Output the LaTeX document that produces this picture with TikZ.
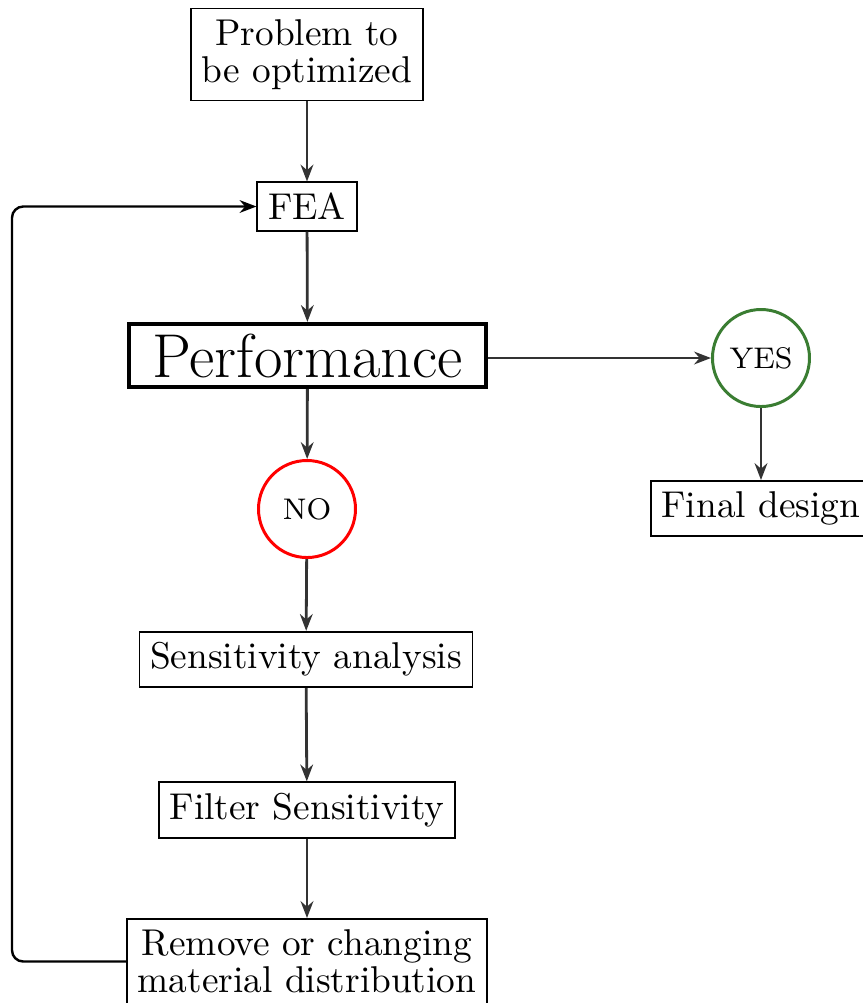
\documentclass[tikz,border=0pt]{standalone}
\usetikzlibrary{arrows.meta}
\definecolor{arrgray}{HTML}{333333}
\definecolor{yesgreen}{HTML}{3A7D32}
\begin{document}
\begin{tikzpicture}[x=0.268pt,y=-0.268pt,
  box/.style={draw=black,line width=0.45pt,inner sep=2.9pt,align=center,
    font=\fontsize{10}{10}\selectfont,fill=white},
  bigbox/.style={draw=black,line width=1.1pt,inner sep=0pt,
    minimum width=95.7pt,minimum height=16.9pt,
    font=\fontsize{16.6}{20}\selectfont},
  yesno/.style={circle,line width=0.8pt,minimum size=26pt,inner sep=0pt,
    font=\fontsize{8}{9}\selectfont},
  flow/.style={draw=arrgray,line width=0.75pt,-{Stealth[length=4.5pt,width=3.4pt]}},
  loopline/.style={draw=black,line width=0.65pt,rounded corners=3pt,-{Stealth[length=4.5pt,width=3.4pt]}}]
\useasboundingbox (0,0) rectangle (863,1003);
\node[box] (prob) at (307,54.5) {Problem to\\be optimized};
\node[box] (fea) at (307,206.5) {FEA};
\node[bigbox] (perf) at (307.5,355.5) {Performance};
\node[yesno,draw=yesgreen] (yes) at (761,358) {YES};
\node[yesno,draw=red] (no) at (307,509) {NO};
\node[box] (final) at (761,508.5) {Final design};
\node[box] (sens) at (306,659.5) {Sensitivity analysis};
\node[box] (filt) at (307,810) {Filter Sensitivity};
\node[box] (rem) at (307,961.5) {Remove or changing\\material distribution};
\coordinate (lc) at (12,206.5);
\draw[flow] (prob) -- (fea);
\draw[flow] (fea) -- (perf);
\draw[flow] (perf.east |- yes) -- (yes);
\draw[flow] (yes) -- (final);
\draw[flow] (perf) -- (no);
\draw[flow] (no) -- (sens);
\draw[flow] (sens) -- (filt);
\draw[flow] (filt) -- (rem);
\draw[loopline] (rem.west) -| (lc) -- (fea.west);
\end{tikzpicture}
\end{document}
